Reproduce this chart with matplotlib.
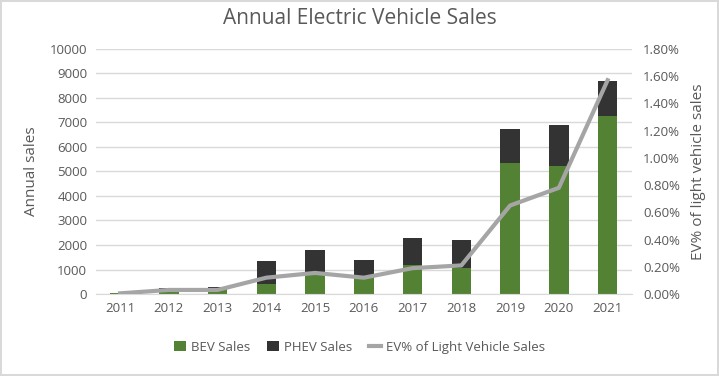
import matplotlib
matplotlib.use("Agg")
import matplotlib.pyplot as plt
from matplotlib.ticker import FuncFormatter, MultipleLocator
import numpy as np

years = ["2011", "2012", "2013", "2014", "2015", "2016", "2017", "2018", "2019", "2020", "2021"]
bev_sales = [40, 100, 150, 400, 800, 650, 1200, 1050, 5330, 5230, 7280]
phev_sales = [20, 150, 130, 930, 980, 720, 1080, 1160, 1390, 1680, 1420]
ev_pct = [0.005, 0.03, 0.03, 0.12, 0.155, 0.12, 0.19, 0.21, 0.65, 0.78, 1.57]

plt.rcParams['font.family'] = ['Open Sans', 'DejaVu Sans']
txt = '#595959'

fig = plt.figure(figsize=(7.19, 3.76), dpi=100)
fig.patch.set_facecolor('white')
fig.patch.set_edgecolor('#d9d9d9')
fig.patch.set_linewidth(1.5)

ax = fig.add_axes([0.133, 0.218, 0.746, 0.652])
x = np.arange(len(years))
w = 0.4
b1 = ax.bar(x, bev_sales, w, color='#548235', label='BEV Sales', zorder=2)
b2 = ax.bar(x, phev_sales, w, bottom=bev_sales, color='#333333', label='PHEV Sales', zorder=2)
ax.set_xlim(-0.5, len(years) - 0.5)
ax.set_ylim(0, 10000)
ax.yaxis.set_major_locator(MultipleLocator(1000))
ax.grid(axis='y', color='#d9d9d9', linewidth=1, zorder=0)
ax.set_axisbelow(True)
for s in ['top', 'right', 'left']:
    ax.spines[s].set_visible(False)
ax.spines['bottom'].set_color('#d9d9d9')
ax.set_xticks(x)
ax.set_xticklabels(years)
ax.tick_params(axis='both', length=0, labelsize=9.5, colors=txt, pad=6)
ax.set_ylabel('Annual sales', color=txt, fontsize=11, labelpad=8)

ax2 = ax.twinx()
l, = ax2.plot(x, ev_pct, color='#a5a5a5', linewidth=3, label='EV% of Light Vehicle Sales', zorder=3)
ax2.set_ylim(0, 1.8)
ax2.yaxis.set_major_locator(MultipleLocator(0.2))
ax2.yaxis.set_major_formatter(FuncFormatter(lambda v, p: f"{v:.2f}%"))
for s in ['top', 'right', 'left', 'bottom']:
    ax2.spines[s].set_visible(False)
ax2.tick_params(axis='y', length=0, labelsize=9.5, colors=txt, pad=8)
ax2.set_ylabel('EV% of light vehicle sales', color=txt, fontsize=11, labelpad=8)

fig.text(0.5, 0.952, 'Annual Electric Vehicle Sales', ha='center', va='center', fontsize=15, color=txt)

fig.legend(handles=[b1, b2, l], loc='center', bbox_to_anchor=(0.5, 0.077), ncol=3, frameon=False,
           fontsize=9.5, labelcolor=txt, handlelength=0.9, handleheight=0.9, columnspacing=1.3, handletextpad=0.35)

fig.savefig('out.png', dpi=100, facecolor=fig.get_facecolor(), edgecolor=fig.get_edgecolor())
